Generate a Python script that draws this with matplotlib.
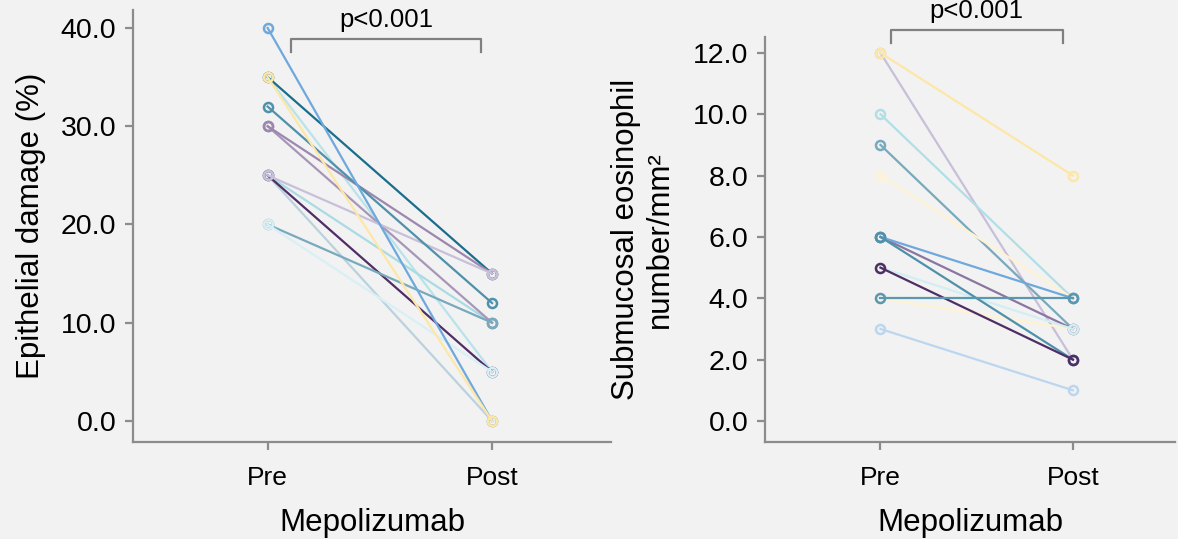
import matplotlib
matplotlib.use("Agg")
import matplotlib.pyplot as plt

plt.rcParams['font.family'] = ['Liberation Sans', 'DejaVu Sans']

# Epithelial damage (%) per patient, pre and post mepolizumab
epi_pre = [25, 35, 25, 25, 30, 35, 30, 25, 20, 20, 32, 40, 35]
epi_post = [0, 5, 10, 5, 10, 15, 15, 15, 10, 5, 12, 0, 0]
epi_colors = ['#bad2de', '#b9e3ea', '#a9dbe4', '#4f2d65', '#a896b8', '#1b6d8c', '#9c87ae',
              '#c8bfd9', '#79a9bc', '#d8f0f5', '#4f91aa', '#6fa8dc', '#fde7a6']

# Submucosal eosinophils per mm2
eos_pre = [12, 12, 10, 9, 8, 4, 6, 5, 6, 6, 5, 4, 3]
eos_post = [2, 8, 4, 3, 4, 3, 3, 3, 4, 2, 2, 4, 1]
eos_colors = ['#c8bfd9', '#fde7a6', '#b0dfe6', '#79a9bc', '#fff3d3', '#fff3d3', '#8a76a0',
              '#d3eef3', '#6fa8dc', '#4f91aa', '#4f2d65', '#5b97ae', '#bcd6ef']

groups = ['Pre', 'Post']
p_text = 'p<0.001'

bg = '#f2f2f2'
spine_col = '#8c8c8c'

fig = plt.figure(figsize=(11.78, 5.39), dpi=100, facecolor=bg)
axA = fig.add_axes([0.1129, 0.18, 0.4058, 0.8022])
axB = fig.add_axes([0.6494, 0.18, 0.348, 0.7514])

for ax, pre, post, cols in [(axA, epi_pre, epi_post, epi_colors),
                            (axB, eos_pre, eos_post, eos_colors)]:
    ax.set_facecolor(bg)
    for a, b, c in zip(pre, post, cols):
        ax.plot([0, 1], [a, b], color=c, lw=1.6, marker='o', ms=6.5,
                mfc='none', mec=c, mew=1.8)
    ax.set_xlim(-0.6, 1.53)
    ax.set_xticks([0, 1])
    ax.set_xticklabels(groups)
    for s in ['top', 'right']:
        ax.spines[s].set_visible(False)
    for s in ['left', 'bottom']:
        ax.spines[s].set_color(spine_col)
        ax.spines[s].set_linewidth(1.6)
    ax.tick_params(axis='both', colors=spine_col, labelcolor='black',
                   length=6, width=1.6)
    ax.tick_params(axis='x', pad=11, labelsize=19)
    ax.tick_params(axis='y', pad=6, labelsize=20.5)
    ax.set_xlabel('Mepolizumab', fontsize=22.5, labelpad=13)

axA.set_ylim(-2.14, 41.87)
axA.set_yticks([0, 10, 20, 30, 40])
axA.set_yticklabels(['%.1f' % v for v in [0, 10, 20, 30, 40]])
axA.set_ylabel('Epithelial damage (%)', fontsize=22.5)
axA.yaxis.set_label_coords(-0.183, 0.5)

axB.set_ylim(-0.685, 12.52)
axB.set_yticks([0, 2, 4, 6, 8, 10, 12])
axB.set_yticklabels(['%.1f' % v for v in [0, 2, 4, 6, 8, 10, 12]])
axB.set_ylabel('Submucosal eosinophil\nnumber/mm²', fontsize=22.5,
               multialignment='center', linespacing=1.15)
axB.yaxis.set_label_coords(-0.22, 0.5)

# significance brackets
axA.plot([0.106, 0.106, 0.951, 0.951], [37.6, 38.9, 38.9, 37.6],
         color='#808080', lw=1.6, clip_on=False)
axA.text(0.53, 40.1, p_text, ha='center', va='baseline', fontsize=18.5)

axB.plot([0.053, 0.053, 0.947, 0.947], [12.33, 12.75, 12.75, 12.33],
         color='#808080', lw=1.6, clip_on=False)
axB.text(0.5, 13.15, p_text, ha='center', va='baseline', fontsize=18.5, clip_on=False)

fig.savefig('out.png', dpi=100, facecolor=bg)
